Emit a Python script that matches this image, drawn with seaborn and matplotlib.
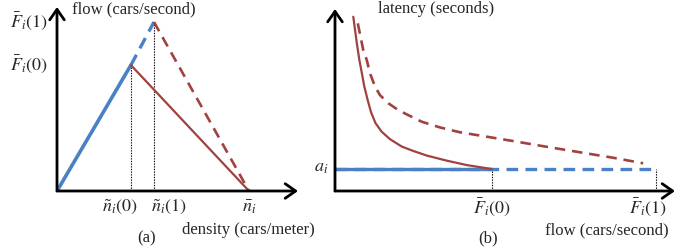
import matplotlib
matplotlib.use("Agg")
import matplotlib.pyplot as plt
import seaborn as sns

# ---------------- data ----------------
# panel (a): fundamental diagram (density -> flow), normalised units
dens_crit = [0.385, 0.505]          # ñ_i(0), ñ_i(1)
dens_jam = 1.0                      # n̄_i
flow_cap = [0.745, 1.0]             # F̄_i(0), F̄_i(1)
dens_labels = [r"$\tilde{n}_i(0)$", r"$\tilde{n}_i(1)$", r"$\bar{n}_i$"]
flowcap_labels = [r"$\bar{F}_i(0)$", r"$\bar{F}_i(1)$"]

# panel (b): latency vs flow
flow_cap_b = [0.488, 1.0]           # F̄_i(0), F̄_i(1)
free_latency = 1.0                  # a_i
lat_label = r"$a_i$"
cong0_flow = [0.057, 0.068, 0.076, 0.083, 0.091, 0.101, 0.112, 0.126, 0.145, 0.171,
              0.208, 0.244, 0.286, 0.348, 0.410, 0.488]
cong0_lat = [7.92, 6.71, 5.95, 5.41, 4.77, 4.18, 3.59, 3.09, 2.70, 2.36, 2.02, 1.82,
             1.61, 1.38, 1.18, 1.00]
cong1_flow = [0.071, 0.088, 0.099, 0.109, 0.125, 0.140, 0.166, 0.197, 0.228, 0.270,
              0.327, 0.389, 0.493, 0.555, 0.659, 0.763, 0.867, 0.960]
cong1_lat = [7.62, 6.41, 5.95, 5.35, 4.74, 4.36, 3.99, 3.68, 3.45, 3.15, 2.89, 2.67,
             2.42, 2.27, 2.01, 1.76, 1.51, 1.26]

# ---------------- style ----------------
sns.set_theme(style="white")
plt.rcParams["font.family"] = ["Liberation Serif", "DejaVu Serif"]
plt.rcParams["mathtext.fontset"] = "stix"

BLUE = "#4a80c6"
RED = "#a0423f"
W, H = 699, 248

fig = plt.figure(figsize=(W / 100, H / 100), dpi=100)


def box(x0, y0, x1, y1):
    return [x0 / W, 1 - y1 / H, (x1 - x0) / W, (y1 - y0) / H]


def fpos(x, y):
    return x / W, 1 - y / H


def setup(ax, xlim, ylim):
    ax.set_xlim(*xlim)
    ax.set_ylim(*ylim)
    ax.set_xticks([])
    ax.set_yticks([])
    for s in ax.spines.values():
        s.set_visible(False)
    ax.patch.set_alpha(0)
    ap = dict(arrowstyle="->,head_length=0.5,head_width=0.35", lw=2.0, color="black",
              mutation_scale=15, shrinkA=0, shrinkB=0)
    ax.annotate("", xy=(1, 0), xytext=(0, 0), xycoords="axes fraction",
                arrowprops=ap, annotation_clip=False)
    ax.annotate("", xy=(0, 1), xytext=(0, 0), xycoords="axes fraction",
                arrowprops=ap, annotation_clip=False)


line_kw = dict(solid_joinstyle="round", solid_capstyle="round")

# ---------------- panel (a) ----------------
axa = fig.add_axes(box(57, 7, 298, 191))
setup(axa, (0, 241 / 192), (0, 184 / 169))

axa.vlines(dens_crit, 0, flow_cap, colors="black", linestyles=(0, (1.2, 1.2)), lw=0.8)
sns.lineplot(x=[0, dens_crit[0]], y=[0, flow_cap[0]], ax=axa, color=BLUE, lw=2.6)
sns.lineplot(x=[dens_crit[0], dens_crit[1]], y=[flow_cap[0], flow_cap[1]], ax=axa,
             color=BLUE, lw=2.4, linestyle=(0, (3.5, 2.2)))
sns.lineplot(x=[dens_crit[0], dens_jam], y=[flow_cap[0], 0], ax=axa, color=RED, lw=1.6)
sns.lineplot(x=[dens_crit[1], dens_jam], y=[flow_cap[1], 0], ax=axa, color=RED, lw=1.9,
             linestyle=(0, (4, 2.6)))

fs_math = 13
xoffs = [-11, 15, 0]
for xv, lab, dx in zip(dens_crit + [dens_jam], dens_labels, xoffs):
    axa.annotate(lab, xy=(xv, 0), xytext=(dx, -16), textcoords="offset pixels",
                 ha="center", va="center", fontsize=fs_math, annotation_clip=False)
for yv, lab in zip(flow_cap, flowcap_labels):
    axa.annotate(lab, xy=(0, yv), xytext=(-9, 1), textcoords="offset pixels",
                 ha="right", va="center", fontsize=fs_math, annotation_clip=False)

fs_txt = 12
fig.text(*fpos(72, 9), "flow (cars/second)", ha="left", va="center", fontsize=fs_txt)
fig.text(*fpos(182, 230), "density (cars/meter)", ha="left", va="center", fontsize=fs_txt)
fig.text(*fpos(147, 238), "(a)", ha="center", va="center", fontsize=fs_txt)

# ---------------- panel (b) ----------------
axb = fig.add_axes(box(335, 9, 675, 191))
setup(axb, (0, 340 / 321), (0, 182 / 22))

axb.vlines(flow_cap_b, 0, free_latency, colors="black", linestyles=(0, (1.2, 1.2)), lw=0.8)
sns.lineplot(x=[0, flow_cap_b[1]], y=[free_latency, free_latency], ax=axb, color=BLUE,
             lw=2.4, linestyle=(0, (3.5, 2.2)))
sns.lineplot(x=[0, flow_cap_b[0]], y=[free_latency, free_latency], ax=axb, color=BLUE,
             lw=2.4)
sns.lineplot(x=cong0_flow, y=cong0_lat, ax=axb, color=RED, lw=1.6, **line_kw)
sns.lineplot(x=cong1_flow, y=cong1_lat, ax=axb, color=RED, lw=1.9,
             linestyle=(0, (4, 2.6)))

for xv, lab, dx in zip(flow_cap_b, flowcap_labels, [0, -8]):
    axb.annotate(lab, xy=(xv, 0), xytext=(dx, -16), textcoords="offset pixels",
                 ha="center", va="center", fontsize=fs_math, annotation_clip=False)
axb.annotate(lat_label, xy=(0, free_latency), xytext=(-7, 1), textcoords="offset pixels",
             ha="right", va="center", fontsize=fs_math, annotation_clip=False)

fig.text(*fpos(378, 9), "latency (seconds)", ha="left", va="center", fontsize=fs_txt)
fig.text(*fpos(545, 230), "flow (cars/second)", ha="left", va="center", fontsize=fs_txt)
fig.text(*fpos(488, 238), "(b)", ha="center", va="center", fontsize=fs_txt)

fig.savefig("out.png", dpi=100)
